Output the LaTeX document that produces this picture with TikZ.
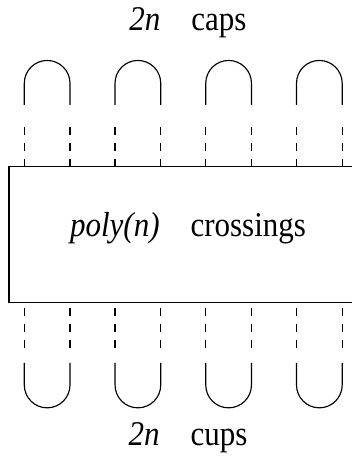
\documentclass[tikz,border=0pt]{standalone}
\usepackage{fontspec}
\setmainfont{Liberation Serif}
\newcommand{\tallertext}[1]{\scalebox{1}[1.12]{#1}}
\begin{document}
\begin{tikzpicture}[x=1pt,y=1pt,
  strand/.style={line width=1.15pt},
  ghost/.style={line width=1.15pt, dash pattern=on 8pt off 8pt},
  label/.style={inner sep=0pt, anchor=base, font=\fontsize{31}{37}\selectfont},
  tangle/.style={draw, line width=1.2pt, inner sep=0pt, outer sep=0pt,
    minimum width=358pt, minimum height=135.6pt,
    text height=0.66em, text depth=0.22em,
    font=\fontsize{31}{37}\selectfont}]
\useasboundingbox (0,0) rectangle (352,462);

% labels
\node[label] (caps) at (188,431) {\tallertext{\textit{2n}\quad caps}};
\node[label] (cups) at (188,16) {\tallertext{\textit{2n}\quad cups}};

% the crossing box, running off the right edge
\begin{scope}
\clip (0,0) rectangle (352,462);
\node[tangle] (box) at (188,227.5) {\tallertext{\textit{poly(n)}\quad crossings}};
\end{scope}

% caps, cups and the dashed strands joining them to the box
\foreach \k in {0,1,2,3} {
  \pgfmathsetmacro{\L}{24.3+90.73*\k}
  \pgfmathsetmacro{\R}{\L+45.7}
  % cap above
  \coordinate (capL\k) at (\L,357);
  \coordinate (capR\k) at (\R,357);
  \draw[strand] (capL\k) -- (\L,378.7) arc[start angle=180,end angle=0,radius=22.85] -- (capR\k);
  \coordinate (tl\k) at (\L,335.3);
  \coordinate (tr\k) at (\R,335.3);
  \draw[ghost] (box.north -| tl\k) -- (tl\k);
  \draw[ghost] (box.north -| tr\k) -- (tr\k);
  % cup below
  \coordinate (cupL\k) at (\L,99);
  \coordinate (cupR\k) at (\R,99);
  \draw[strand] (cupL\k) -- (\L,77) arc[start angle=180,end angle=360,radius=22.85] -- (cupR\k);
  \coordinate (bl\k) at (\L,113.7);
  \coordinate (br\k) at (\R,113.7);
  \draw[ghost] (bl\k) -- (box.south -| bl\k);
  \draw[ghost] (br\k) -- (box.south -| br\k);
}
\end{tikzpicture}
\end{document}
